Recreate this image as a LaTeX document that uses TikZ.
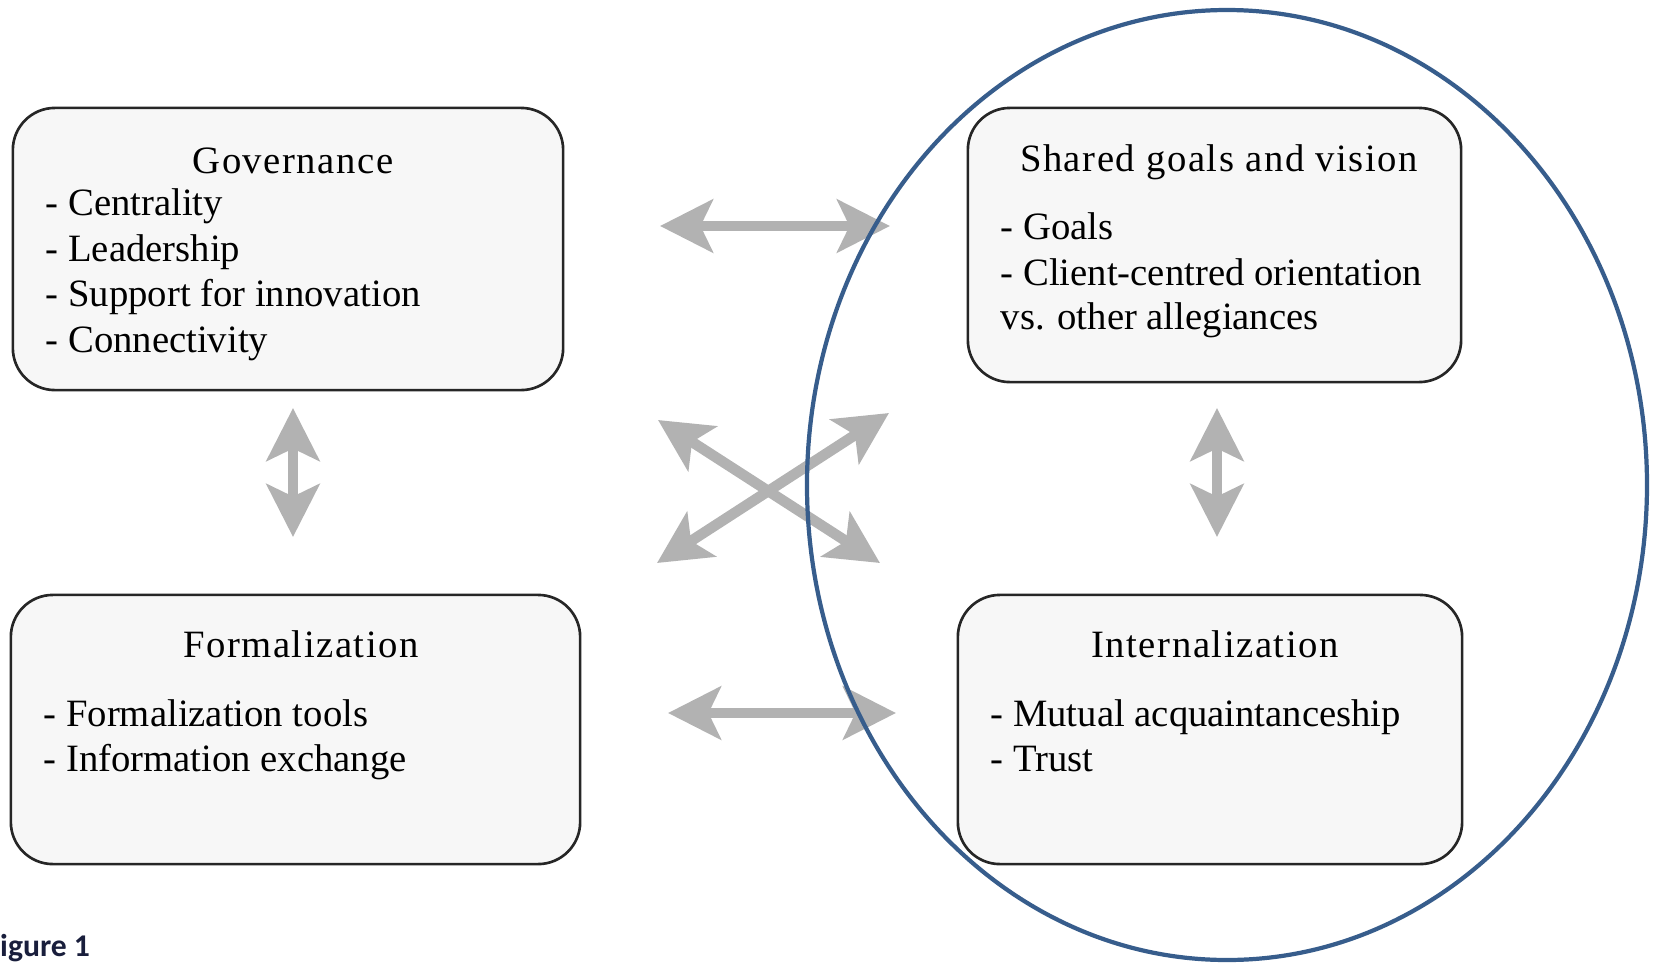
\documentclass[tikz,border=0pt]{standalone}
\usepackage{fontspec}
\setmainfont{Liberation Serif}
\newfontfamily\headfont[LetterSpace=4]{Liberation Serif}
\newfontfamily\itemfont{Liberation Serif}
\newfontfamily\capfont{Carlito}
\usetikzlibrary{arrows.meta}

\definecolor{ringblue}{RGB}{55,93,140}
\definecolor{boxfill}{RGB}{247,247,247}
\definecolor{capnavy}{RGB}{25,30,60}

\tikzset{
    box/.style={draw=black!85, line width=0.75pt, fill=boxfill, rounded corners=0.42cm},
    head/.style={font=\headfont\fontsize{11pt}{12.6pt}\selectfont, inner sep=0pt, anchor=base},
    item/.style={font=\itemfont\fontsize{11pt}{12.6pt}\selectfont, inner sep=0pt, anchor=base west},
    twoway/.style={draw=gray!60, line width=3pt,
        {Stealth[length=15pt, width=15pt, inset=3.5pt]}-{Stealth[length=15pt, width=15pt, inset=3.5pt]}}
}

\begin{document}
\begin{tikzpicture}[x=0.01cm, y=-0.01cm]
        \useasboundingbox (0,0) rectangle (1656,963);

        % boxes
        \node[box, minimum width=5.50cm, minimum height=2.82cm] (gov) at (288,249) {};
        \node[box, minimum width=4.93cm, minimum height=2.74cm] (shared) at (1214.5,245) {};
        \node[box, minimum width=5.69cm, minimum height=2.69cm] (form) at (295.5,729.5) {};
        \node[box, minimum width=5.04cm, minimum height=2.69cm] (intern) at (1210,729.5) {};

        % texts
        \node[head] (govT) at (293,173) {Governance};
        \node[item] (govA) at (45,215) {- Centrality};
        \node[item] (govB) at (45,261) {- Leadership};
        \node[item] (govC) at (45,306) {- Support for innovation};
        \node[item] (govD) at (45,352) {- Connectivity};

        \node[head] (sharedT) at (1219,171) {Shared goals and vision};
        \node[item] (sharedA) at (1000,239) {- Goals};
        \node[item] (sharedB) at (1000,285) {- Client-centred orientation};
        \node[item] (sharedC) at (1000,329) {vs. other allegiances};

        \node[head] (formT) at (301,657) {Formalization};
        \node[item] (formA) at (43,726) {- Formalization tools};
        \node[item] (formB) at (43,771) {- Information exchange};

        \node[head] (internT) at (1215,657) {Internalization};
        \node[item] (internA) at (990,726) {- Mutual acquaintanceship};
        \node[item] (internB) at (990,771) {- Trust};

        % arrow ends
        \coordinate (topL) at (660,226);
        \coordinate (topR) at (890,226);
        \coordinate (botL) at (668,713);
        \coordinate (botR) at (896,713);
        \coordinate (leftT) at (293,408);
        \coordinate (leftB) at (293,537);
        \coordinate (rightT) at (1217,408);
        \coordinate (rightB) at (1217,537);
        \coordinate (crossNW) at (658,420);
        \coordinate (crossSE) at (880,563);
        \coordinate (crossSW) at (657,563);
        \coordinate (crossNE) at (889,413);

        \draw[twoway] (topL) -- (topR);
        \draw[twoway] (botL) -- (botR);
        \draw[twoway] (leftT) -- (leftB);
        \draw[twoway] (rightT) -- (rightB);
        \draw[twoway] (crossNW) -- (crossSE);
        \draw[twoway] (crossSW) -- (crossNE);

        % ring round the right column
        \coordinate (ring) at (1227,485);
        \draw[ringblue, line width=1.2pt] (ring) ellipse [x radius=420, y radius=475];

        \node[font=\capfont\bfseries\fontsize{9pt}{11pt}\selectfont, text=capnavy,
              inner sep=0pt, anchor=base west] (figcap) at (-15,956) {Figure 1};

    \end{tikzpicture}
\end{document}
